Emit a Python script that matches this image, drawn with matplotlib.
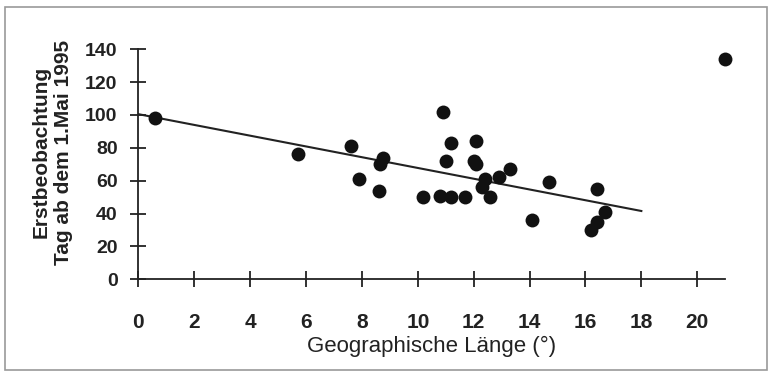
import numpy as np
import matplotlib
matplotlib.use("Agg")
import matplotlib.pyplot as plt
from matplotlib.patches import Rectangle

# Daten: geographische Laenge und Tag der Erstbeobachtung
laenge = [0.6, 5.7, 7.6, 7.9, 8.6, 8.65, 8.75, 10.2, 10.9, 10.8, 11.0, 11.2,
          11.2, 11.7, 12.1, 12.0, 12.1, 12.4, 12.3, 12.6, 12.9, 13.3, 14.1,
          14.7, 16.4, 16.4, 16.2, 16.7, 21.0]
tag = [98, 76, 81, 61, 54, 70, 74, 50, 102, 51, 72, 83,
       50, 50, 84, 72, 70, 61, 56, 50, 62, 67, 36,
       59, 55, 35, 30, 41, 134]

# Regressionsgerade
trend_x = [0, 18]
trend_y = [100.5, 41.6]

x_ticks = list(range(0, 21, 2))
y_ticks = list(range(0, 141, 20))

plt.rcParams["font.family"] = ["Liberation Sans", "DejaVu Sans"]
farbe = "#222222"

fig = plt.figure(figsize=(7.69, 3.73), dpi=100)
ax = fig.add_axes([0.18, 0.251, 0.763, 0.617])

ax.scatter(laenge, tag, s=100, color="#111111", zorder=3, clip_on=False,
           linewidths=0)
ax.plot(trend_x, trend_y, color=farbe, lw=1.5, zorder=2)

ax.set_xlim(0, 21.0)
ax.set_ylim(0, 140)
ax.set_xticks(x_ticks)
ax.set_yticks(y_ticks)
for s in ["top", "right"]:
    ax.spines[s].set_visible(False)
for s in ["left", "bottom"]:
    ax.spines[s].set_linewidth(1.3)
    ax.spines[s].set_color(farbe)
ax.tick_params(direction="inout", length=12, width=1.3, color=farbe)
ax.tick_params(axis="y", labelsize=14, pad=9)
ax.tick_params(axis="x", labelsize=15, pad=18)
for lab in ax.get_xticklabels() + ax.get_yticklabels():
    lab.set_fontweight("bold")
    lab.set_color(farbe)

ax.set_xlabel("Geographische Länge (°)", fontsize=16, color=farbe,
              labelpad=3)
fig.text(0.054, 0.592, "Erstbeobachtung", rotation=90, fontsize=15,
         fontweight="bold", color=farbe, ha="center", va="center")
fig.text(0.083, 0.592, "Tag ab dem 1.Mai 1995", rotation=90, fontsize=15,
         fontweight="bold", color=farbe, ha="center", va="center")

# Rahmen um die Abbildung
fig.patches.append(Rectangle((0.006, 0.008), 0.991, 0.974,
                             transform=fig.transFigure, fill=False,
                             edgecolor="#9a9a9a", lw=1.2))

fig.savefig("out.png", dpi=100)
